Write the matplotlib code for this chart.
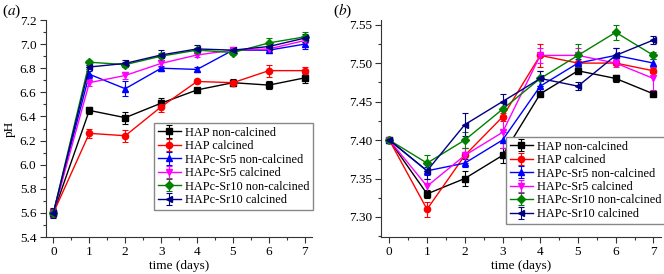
import matplotlib
matplotlib.use("Agg")
import matplotlib.pyplot as plt
from matplotlib.ticker import MultipleLocator

plt.rcParams['font.family'] = ['Liberation Serif', 'DejaVu Serif']
plt.rcParams['mathtext.fontset'] = 'stix'

# sampling days
days = [0, 1, 2, 3, 4, 5, 6, 7]

labels = ["HAP non-calcined", "HAP calcined", "HAPc-Sr5 non-calcined",
          "HAPc-Sr5 calcined", "HAPc-Sr10 non-calcined", "HAPc-Sr10 calcined"]
colors = ["black", "#ff0000", "#0000ff", "#ff00ff", "#008000", "#000080"]
markers = ["s", "o", "^", "v", "D", "<"]

# panel (a) pH values
a_hap_nc = [5.60, 6.45, 6.39, 6.51, 6.62, 6.68, 6.66, 6.72]
a_hap_c = [5.60, 6.26, 6.24, 6.48, 6.69, 6.68, 6.78, 6.78]
a_sr5_nc = [5.60, 6.75, 6.63, 6.80, 6.79, 6.95, 6.95, 7.00]
a_sr5_c = [5.60, 6.68, 6.74, 6.84, 6.91, 6.95, 6.96, 7.03]
a_sr10_nc = [5.60, 6.85, 6.83, 6.90, 6.95, 6.93, 7.01, 7.06]
a_sr10_c = [5.60, 6.81, 6.84, 6.91, 6.96, 6.95, 6.98, 7.05]

# panel (a) errors
a_err_hap_nc = [0.03, 0.03, 0.05, 0.04, 0.02, 0.03, 0.03, 0.04]
a_err_hap_c = [0.03, 0.04, 0.05, 0.04, 0.01, 0.02, 0.05, 0.03]
a_err_sr5_nc = [0.02, 0.03, 0.06, 0.02, 0.02, 0.02, 0.02, 0.04]
a_err_sr5_c = [0.02, 0.03, 0.03, 0.03, 0.02, 0.03, 0.02, 0.02]
a_err_sr10_nc = [0.02, 0.02, 0.02, 0.03, 0.02, 0.02, 0.04, 0.04]
a_err_sr10_c = [0.04, 0.02, 0.03, 0.04, 0.03, 0.02, 0.03, 0.03]

# panel (b) pH values
b_hap_nc = [7.40, 7.33, 7.35, 7.38, 7.46, 7.49, 7.48, 7.46]
b_hap_c = [7.40, 7.31, 7.38, 7.43, 7.51, 7.50, 7.50, 7.49]
b_sr5_nc = [7.40, 7.36, 7.37, 7.40, 7.47, 7.50, 7.51, 7.50]
b_sr5_c = [7.40, 7.34, 7.38, 7.41, 7.51, 7.51, 7.50, 7.48]
b_sr10_nc = [7.40, 7.37, 7.40, 7.44, 7.48, 7.51, 7.54, 7.51]
b_sr10_c = [7.40, 7.36, 7.42, 7.45, 7.48, 7.47, 7.51, 7.53]

# panel (b) errors
b_err_hap_nc = [0.002, 0.005, 0.010, 0.010, 0.003, 0.003, 0.005, 0.002]
b_err_hap_c = [0.002, 0.010, 0.010, 0.005, 0.015, 0.010, 0.003, 0.003]
b_err_sr5_nc = [0.002, 0.005, 0.005, 0.010, 0.010, 0.005, 0.010, 0.005]
b_err_sr5_c = [0.002, 0.010, 0.010, 0.020, 0.010, 0.010, 0.005, 0.015]
b_err_sr10_nc = [0.002, 0.010, 0.010, 0.010, 0.010, 0.015, 0.010, 0.005]
b_err_sr10_c = [0.002, 0.010, 0.015, 0.010, 0.010, 0.005, 0.010, 0.005]

a_series = [a_hap_nc, a_hap_c, a_sr5_nc, a_sr5_c, a_sr10_nc, a_sr10_c]
a_errors = [a_err_hap_nc, a_err_hap_c, a_err_sr5_nc, a_err_sr5_c, a_err_sr10_nc, a_err_sr10_c]
b_series = [b_hap_nc, b_hap_c, b_sr5_nc, b_sr5_c, b_sr10_nc, b_sr10_c]
b_errors = [b_err_hap_nc, b_err_hap_c, b_err_sr5_nc, b_err_sr5_c, b_err_sr10_nc, b_err_sr10_c]

W, H = 664, 274
fig = plt.figure(figsize=(W / 100, H / 100), dpi=100)
ax_a = fig.add_axes([45.5 / W, 37 / H, 266.5 / W, 217 / H])
ax_b = fig.add_axes([381 / W, 37 / H, 280 / W, 217 / H])


def draw_panel(ax, series, errors):
    for vals, errs, c, m, lab in zip(series, errors, colors, markers, labels):
        ms = 4 if m == "D" else 4.5
        ax.errorbar(days, vals, yerr=errs, color=c, marker=m, markersize=ms,
                    linewidth=1, elinewidth=0.8, capsize=2, capthick=0.8,
                    label=lab)
    for side in ["top", "right"]:
        ax.spines[side].set_visible(False)
    ax.spines["left"].set_color("#333333")
    ax.spines["bottom"].set_color("#333333")
    ax.set_xlim(-0.22, 7.2)
    ax.xaxis.set_major_locator(MultipleLocator(1))
    ax.xaxis.set_minor_locator(MultipleLocator(0.5))
    ax.tick_params(which="both", direction="out", labelsize=9.5, width=0.8,
                   colors="#333333", labelcolor="black", pad=2.5)
    ax.tick_params(which="major", length=4)
    ax.tick_params(which="minor", length=2.5)
    ax.set_xlabel("time (days)", fontsize=9.5, labelpad=1.5)


def add_legend(ax, anchor):
    ax.legend(loc="upper left", bbox_to_anchor=anchor, fontsize=8.8,
              frameon=True, fancybox=False, edgecolor="#888888", framealpha=1,
              handlelength=1.9, labelspacing=0.12, borderpad=0.3,
              handletextpad=0.3, borderaxespad=0)


draw_panel(ax_a, a_series, a_errors)
ax_a.set_ylim(5.4, 7.2)
ax_a.yaxis.set_major_locator(MultipleLocator(0.2))
ax_a.yaxis.set_minor_locator(MultipleLocator(0.1))
ax_a.yaxis.set_major_formatter(lambda v, p: f"{v:.1f}")
ax_a.set_ylabel("pH", fontsize=9.5, labelpad=3)
add_legend(ax_a, (0.407, 0.525))

draw_panel(ax_b, b_series, b_errors)
ax_b.set_ylim(7.274, 7.556)
ax_b.yaxis.set_major_locator(MultipleLocator(0.05))
ax_b.yaxis.set_minor_locator(MultipleLocator(0.025))
ax_b.yaxis.set_major_formatter(lambda v, p: f"{v:.2f}")
add_legend(ax_b, (0.447, 0.461))

fig.text(2 / W, 1 - 11 / H, r"($a$)", fontsize=11, va="center", ha="left")
fig.text(333 / W, 1 - 11 / H, r"($b$)", fontsize=11, va="center", ha="left")

fig.savefig("out.png", dpi=100)
